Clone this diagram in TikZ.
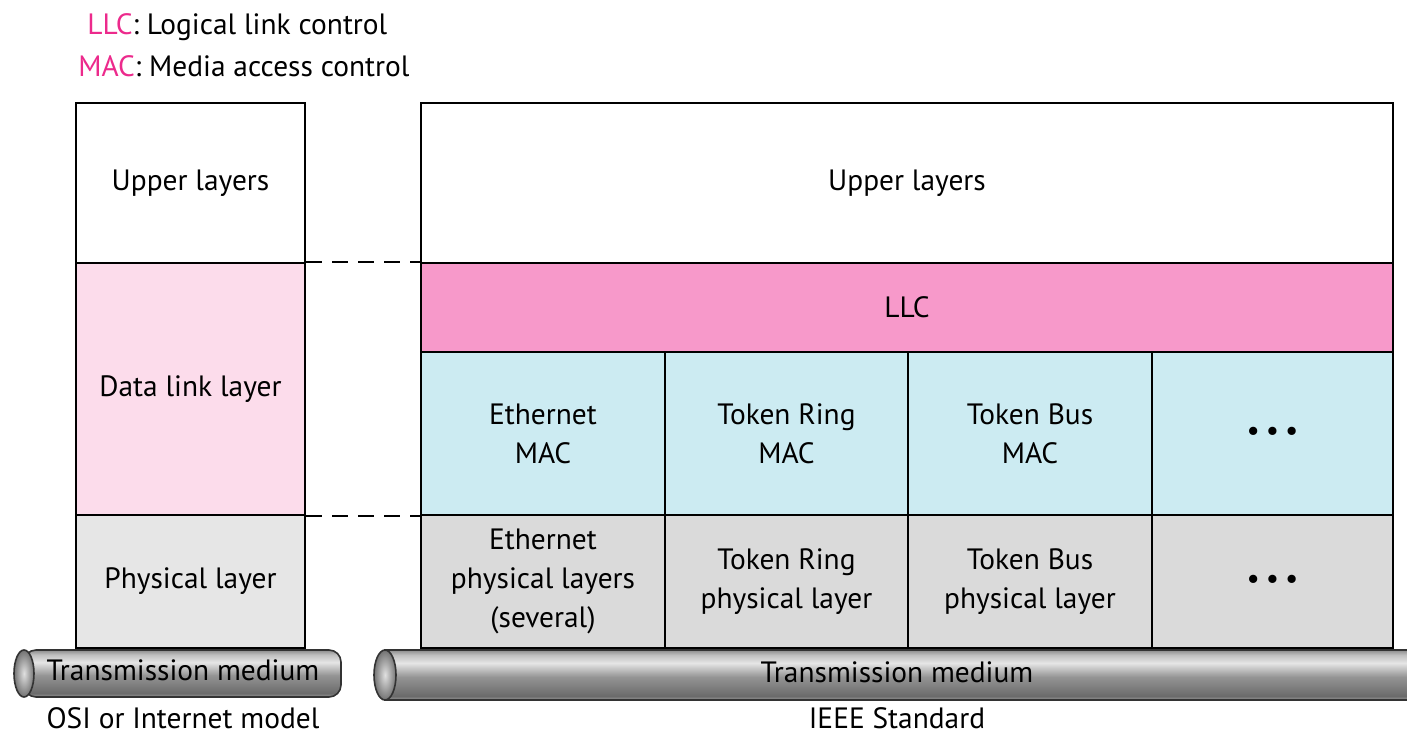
\documentclass[tikz,border=0pt]{standalone}
\usepackage{fontspec}
\setmainfont{PT Sans}
\usetikzlibrary{positioning}
\definecolor{dllpink}{HTML}{FCDCEB}
\definecolor{llcpink}{HTML}{F799CA}
\definecolor{macblue}{HTML}{CCEBF2}
\definecolor{phygray}{HTML}{DADADA}
\definecolor{philight}{HTML}{E6E6E6}
\definecolor{keypink}{HTML}{EC2A8C}
% shading of the cable (bottom to top)
\pgfdeclareverticalshading{tube}{100bp}{color(0bp)=(black!40); color(25bp)=(black!40); color(29bp)=(black!58); color(48bp)=(black!42); color(62bp)=(black!10); color(70bp)=(black!25); color(75bp)=(black!45); color(100bp)=(black!45)}
\tikzset{
    cell/.style={draw, line width=1pt, inner sep=0pt, align=center, font=\fontsize{14.7}{19.5}\selectfont}, % one box of a layer stack
    txt/.style={inner sep=0pt, font=\fontsize{14.7}{19.5}\selectfont}, % loose text
    tube/.style={shading=tube, draw=black!80, line width=0.8pt} % transmission cable
}
\newcommand{\dotdotdot}{\textbullet\hspace{3pt}\textbullet\hspace{3pt}\textbullet}

\begin{document}
\begin{tikzpicture}[x=0.5pt, y=-0.5pt]
    \clip (0,0) rectangle (1407,734);

    % key
    \node[txt, anchor=west] (keyllc) at (87,27) {\textcolor{keypink}{LLC}: Logical link control};
    \node[txt, anchor=west] (keymac) at (78,66) {\textcolor{keypink}{MAC}: Media access control};

    % OSI stack
    \node[cell, minimum width=114.5pt, minimum height=80pt] (oupper) at (190.5,183) {Upper layers};
    \node[cell, fill=dllpink, minimum width=114.5pt, minimum height=126pt] (odll) at (190.5,389) {Data link layer};
    \node[cell, fill=philight, minimum width=114.5pt, minimum height=66.5pt] (ophy) at (190.5,581.5) {Physical layer};

    % IEEE stack
    \node[cell, minimum width=486pt, minimum height=80pt] (iupper) at (907,183) {Upper layers};
    \node[cell, fill=llcpink, minimum width=486pt, minimum height=44.5pt] (llc) at (907,307.5) {LLC};
    \node[cell, fill=macblue, minimum width=122pt, minimum height=81.5pt] (macA) at (543,433.5) {Ethernet\\MAC};
    \node[cell, fill=macblue, minimum width=121.5pt, minimum height=81.5pt] (macB) at (786.5,433.5) {Token Ring\\MAC};
    \node[cell, fill=macblue, minimum width=122pt, minimum height=81.5pt] (macC) at (1030,433.5) {Token Bus\\MAC};
    \node[cell, fill=macblue, minimum width=120.5pt, minimum height=81.5pt] (macD) at (1272.5,433.5) {\dotdotdot};
    \node[cell, fill=phygray, minimum width=122pt, minimum height=66.5pt] (phyA) at (543,581.5) {Ethernet\\physical layers\\(several)};
    \node[cell, fill=phygray, minimum width=121.5pt, minimum height=66.5pt] (phyB) at (786.5,581.5) {Token Ring\\physical layer};
    \node[cell, fill=phygray, minimum width=122pt, minimum height=66.5pt] (phyC) at (1030,581.5) {Token Bus\\physical layer};
    \node[cell, fill=phygray, minimum width=120.5pt, minimum height=66.5pt] (phyD) at (1272.5,581.5) {\dotdotdot};

    \draw[line width=1.2pt, dash pattern=on 8pt off 5pt] (odll.north east) -- (llc.north west);
    \draw[line width=1.2pt, dash pattern=on 8pt off 5pt] (odll.south east) -- (macA.south west);

    % cables
    \path[tube, rounded corners=6pt] (24,650) -- (341,650) -- (341,697) -- (24,697) -- cycle;
    \shade[draw=black!80, line width=0.8pt, inner color=black!12, outer color=black!55] (24,673.5) ellipse [x radius=5pt, y radius=11.75pt];
    \path[tube] (385,650) -- (1420,650) -- (1420,700) -- (385,700) -- cycle;
    \shade[draw=black!80, line width=0.8pt, inner color=black!12, outer color=black!55] (385,675) ellipse [x radius=5.5pt, y radius=12.5pt];

    \node[txt] (medL) at (183,670) {Transmission medium};
    \node[txt] (medR) at (897,672) {Transmission medium};
    \node[txt] (osi) at (183,718) {OSI or Internet model};
    \node[txt] (ieee) at (897,718) {IEEE Standard};
\end{tikzpicture}
\end{document}
